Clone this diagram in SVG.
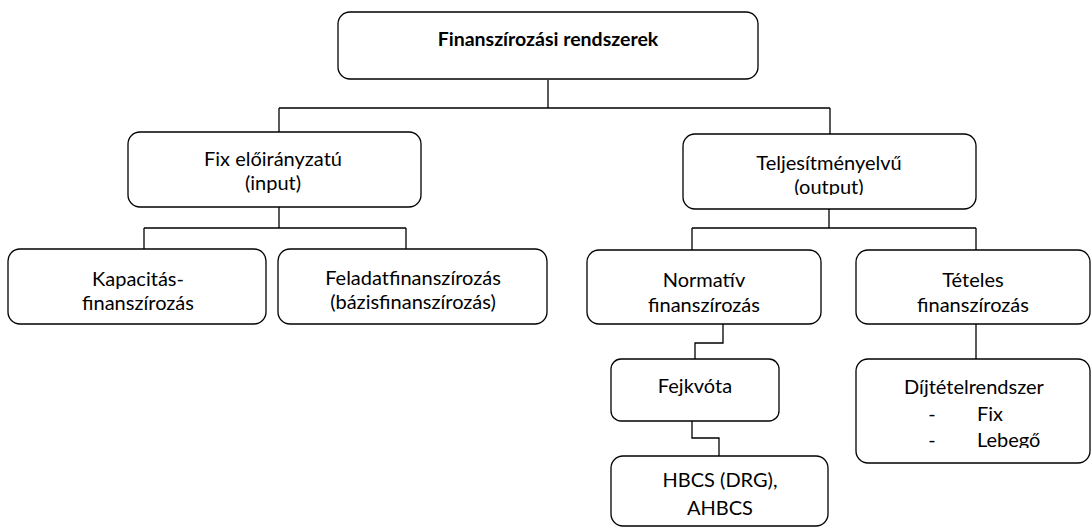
<svg xmlns="http://www.w3.org/2000/svg" width="1091" height="527" viewBox="0 0 1091 527">
<style>
.box{fill:#fff;stroke:#000;stroke-width:1.3}
.t{font-family:Lato,"Open Sans","Liberation Sans",sans-serif;font-size:20px;fill:#000;text-anchor:middle}
.b{font-weight:bold;font-size:19.5px}
.l{text-anchor:start}
.c{fill:none;stroke:#000;stroke-width:1.3}
</style>
<defs>
<clipPath id="clipFix"><rect x="128" y="132" width="293" height="61"/></clipPath>
<clipPath id="clipTel"><rect x="683" y="134" width="293" height="61"/></clipPath>
<clipPath id="clipDij"><rect x="856" y="359" width="234" height="89"/></clipPath>
</defs>
<rect width="1091" height="527" fill="#fff"/>
<g id="connectors">
<path class="c" d="M548,80 V108 M279,108 H830 M279,108 V132 M830,108 V134"/>
<path class="c" d="M279,207 V228 M144,228 H406 M144,228 V249 M406,228 V249"/>
<path class="c" d="M829,209 V228 M692,228 H976 M692,228 V250 M976,228 V250"/>
<path class="c" d="M723,324 V343 H695 V359"/>
<path class="c" d="M692,421 V438 H719 V456"/>
<path class="c" d="M976,324 V359"/>
</g>
<g id="root">
<rect class="box" x="338" y="12" width="420" height="67" rx="12"/>
<text class="t b" x="548" y="46">Finanszírozási rendszerek</text>
</g>
<g id="fix">
<rect class="box" x="128" y="132" width="293" height="75" rx="12"/>
<g clip-path="url(#clipFix)">
<text class="t" x="273" y="166">Fix előirányzatú</text>
<text class="t" x="273" y="190">(input)</text>
</g>
</g>
<g id="teljesitmeny">
<rect class="box" x="683" y="134" width="293" height="75" rx="12"/>
<g clip-path="url(#clipTel)">
<text class="t" x="829" y="170">Teljesítményelvű</text>
<text class="t" x="829" y="194">(output)</text>
</g>
</g>
<g id="kapacitas">
<rect class="box" x="8" y="249" width="258" height="75" rx="12"/>
<text class="t" x="138" y="286">Kapacitás-</text>
<text class="t" x="138" y="310">finanszírozás</text>
</g>
<g id="feladat">
<rect class="box" x="278" y="249" width="269" height="75" rx="12"/>
<text class="t" x="413" y="285">Feladatfinanszírozás</text>
<text class="t" x="413" y="309">(bázisfinanszírozás)</text>
</g>
<g id="normativ">
<rect class="box" x="587" y="250" width="234" height="74" rx="12"/>
<text class="t" x="704" y="287">Normatív</text>
<text class="t" x="704" y="312">finanszírozás</text>
</g>
<g id="teteles">
<rect class="box" x="856" y="250" width="234" height="74" rx="12"/>
<text class="t" x="973" y="287">Tételes</text>
<text class="t" x="973" y="312">finanszírozás</text>
</g>
<g id="fejkvota">
<rect class="box" x="611" y="359" width="168" height="62" rx="10"/>
<text class="t" x="695" y="393">Fejkvóta</text>
</g>
<g id="dijtetel">
<rect class="box" x="856" y="359" width="234" height="104" rx="12"/>
<g clip-path="url(#clipDij)">
<text class="t" x="974" y="394">Díjtételrendszer</text>
<text class="t" x="932" y="421">-</text>
<text class="t l" x="977" y="421">Fix</text>
<text class="t" x="932" y="447">-</text>
<text class="t l" x="977" y="447">Lebegő</text>
</g>
</g>
<g id="hbcs">
<rect class="box" x="611" y="456" width="217" height="70" rx="12"/>
<text class="t" x="720" y="487">HBCS (DRG),</text>
<text class="t" x="720" y="515">AHBCS</text>
</g>
</svg>
